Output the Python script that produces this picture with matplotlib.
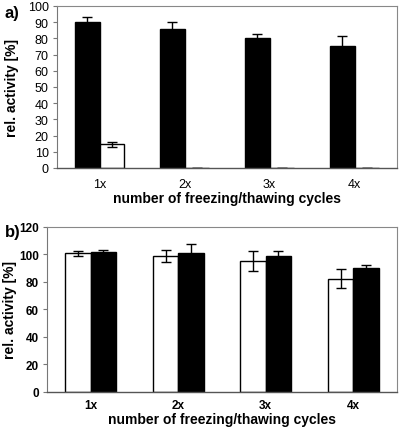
import numpy as np
import matplotlib
matplotlib.use("Agg")
import matplotlib.pyplot as plt

plt.rcParams['font.family'] = ['Liberation Sans', 'DejaVu Sans']

cycles = ['1x', '2x', '3x', '4x']

# panel a
a_black = [90, 86, 80, 75]
a_black_err = [3.1, 4.1, 2.9, 6.6]
a_white = [14.6, 0, 0, 0]
a_white_err = [1.7, 0, 0, 0]

# panel b
b_white = [101, 98.8, 95.2, 82.5]
b_white_err = [1.8, 4.6, 7.2, 7.0]
b_black = [102, 101, 98.6, 90]
b_black_err = [1.2, 6.3, 4.1, 2.0]

fig = plt.figure(figsize=(4.0, 4.35), dpi=100)
ax_a = fig.add_axes([0.1425, 0.6115, 0.85, 0.3725])
ax_b = fig.add_axes([0.1175, 0.0966, 0.875, 0.3794])

x = np.arange(len(cycles))
w = 0.29
err_kw = dict(ecolor='black', elinewidth=1.0, capsize=3.5, capthick=1.0)


def style_axes(ax, bold_ticks, tick_size, xpad):
    for side in ['top', 'right']:
        ax.spines[side].set_color('#888888')
        ax.spines[side].set_linewidth(0.8)
    ax.spines['left'].set_color('#777777')
    ax.spines['bottom'].set_color('#555555')
    ax.spines['left'].set_linewidth(0.8)
    ax.spines['bottom'].set_linewidth(1.0)
    ax.set_xlim(-0.5, len(cycles) - 0.5)
    ax.set_xticks(x)
    ax.set_xticklabels(cycles)
    ax.tick_params(axis='x', length=0, pad=xpad)
    ax.tick_params(axis='y', length=3, color='#777777', pad=3)
    weight = 'bold' if bold_ticks else 'normal'
    for lab in ax.get_xticklabels() + ax.get_yticklabels():
        lab.set_fontsize(tick_size)
        lab.set_fontweight(weight)
    ax.set_xlabel('number of freezing/thawing cycles', fontsize=10,
                  fontweight='bold', labelpad=1)
    ax.set_ylabel('rel. activity [%]', fontsize=10, fontweight='bold',
                  labelpad=6)


# panel a: black first, white second
ax_a.bar(x - w / 2, a_black, w, color='black', edgecolor='black',
         yerr=a_black_err, error_kw=err_kw, zorder=2)
ax_a.bar(x + w / 2, a_white, w, color='white', edgecolor='black',
         linewidth=1.0, yerr=a_white_err, error_kw=err_kw, zorder=2)
ax_a.set_ylim(0, 100)
ax_a.set_yticks(np.arange(0, 101, 10))
style_axes(ax_a, bold_ticks=False, tick_size=9, xpad=7)

# panel b: white first, black second
ax_b.bar(x - w / 2, b_white, w, color='white', edgecolor='black',
         linewidth=1.0, yerr=b_white_err, error_kw=err_kw, zorder=2)
ax_b.bar(x + w / 2, b_black, w, color='black', edgecolor='black',
         yerr=b_black_err, error_kw=err_kw, zorder=2)
ax_b.set_ylim(0, 120)
ax_b.set_yticks(np.arange(0, 121, 20))
style_axes(ax_b, bold_ticks=True, tick_size=8.5, xpad=5)
ax_b.yaxis.set_label_coords(-0.085, 0.5)

# panel letters
fig.text(0.012, 0.968, 'a)', fontsize=12, fontweight='bold',
         ha='left', va='center')
fig.text(0.012, 0.466, 'b)', fontsize=12, fontweight='bold',
         ha='left', va='center')

fig.savefig('out.png', dpi=100)
